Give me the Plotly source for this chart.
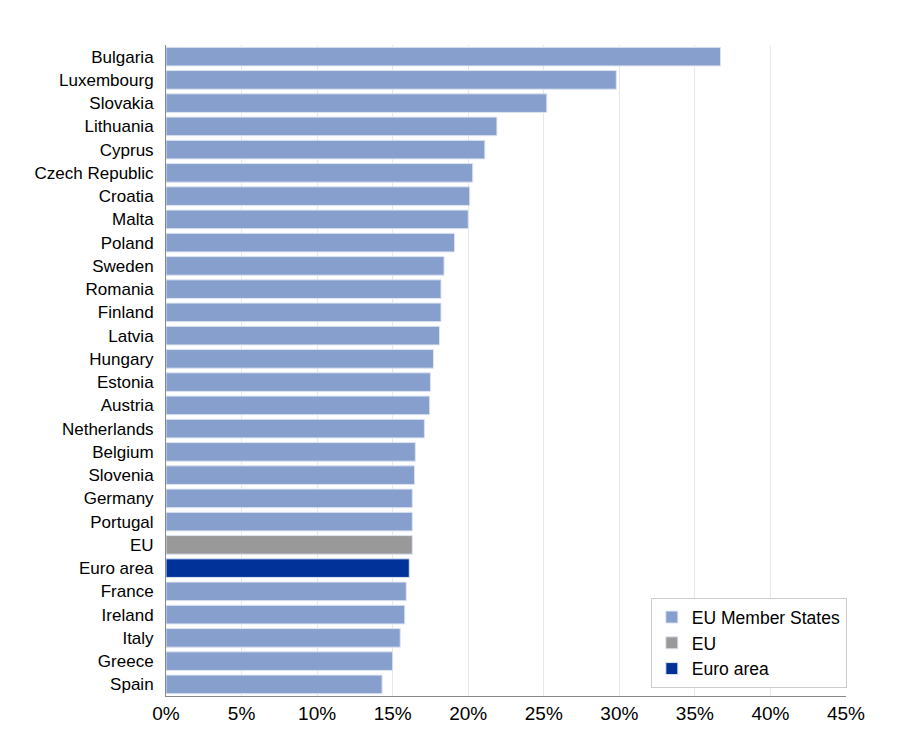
import plotly.graph_objects as go

countries = ["Bulgaria", "Luxembourg", "Slovakia", "Lithuania", "Cyprus", "Czech Republic",
             "Croatia", "Malta", "Poland", "Sweden", "Romania", "Finland", "Latvia",
             "Hungary", "Estonia", "Austria", "Netherlands", "Belgium", "Slovenia",
             "Germany", "Portugal", "EU", "Euro area", "France", "Ireland", "Italy",
             "Greece", "Spain"]
values = [36.7, 29.8, 25.2, 21.9, 21.1, 20.3, 20.1, 20.0, 19.1, 18.4, 18.2, 18.2, 18.1,
          17.7, 17.5, 17.45, 17.1, 16.5, 16.45, 16.3, 16.3, 16.3, 16.1, 15.9, 15.8, 15.5,
          15.0, 14.3]
groups = {"EU": "EU", "Euro area": "Euro area"}
colors = {"EU Member States": "#869fcd", "EU": "#999999", "Euro area": "#003299"}

fig = go.Figure()
for grp in ["EU Member States", "EU", "Euro area"]:
    ys = [c for c in countries if groups.get(c, "EU Member States") == grp]
    xs = [v for c, v in zip(countries, values) if groups.get(c, "EU Member States") == grp]
    fig.add_trace(go.Bar(
        x=[v / 100 for v in xs], y=ys, orientation="h", name=grp,
        marker=dict(color=colors[grp], line=dict(color="#dde4f1", width=1)),
    ))

# page body has an 8px margin, so the margins are shifted by that much
fig.update_layout(
    width=908, height=742,
    margin=dict(l=158, r=70, t=37, b=54),
    plot_bgcolor="white", paper_bgcolor="white",
    font=dict(family="Liberation Sans, Arial, sans-serif", size=17, color="black"),
    bargap=0.2,
    showlegend=True,
    legend=dict(x=0.713, y=0.012, xanchor="left", yanchor="bottom",
                bordercolor="#cccccc", borderwidth=1, bgcolor="white",
                font=dict(size=17.5), tracegroupgap=0),
)
fig.update_xaxes(range=[0, 0.45], dtick=0.05, tickformat=".0%",
                 showgrid=True, gridcolor="#e8e8e8", zeroline=False,
                 showline=True, linecolor="#888888", ticks="", tickfont=dict(size=19))
fig.update_yaxes(categoryorder="array", categoryarray=countries, autorange="reversed",
                 showline=True, linecolor="#888888", ticks="", ticklabelstandoff=8,
                 tickfont=dict(size=17))

fig.write_html("out.html")
